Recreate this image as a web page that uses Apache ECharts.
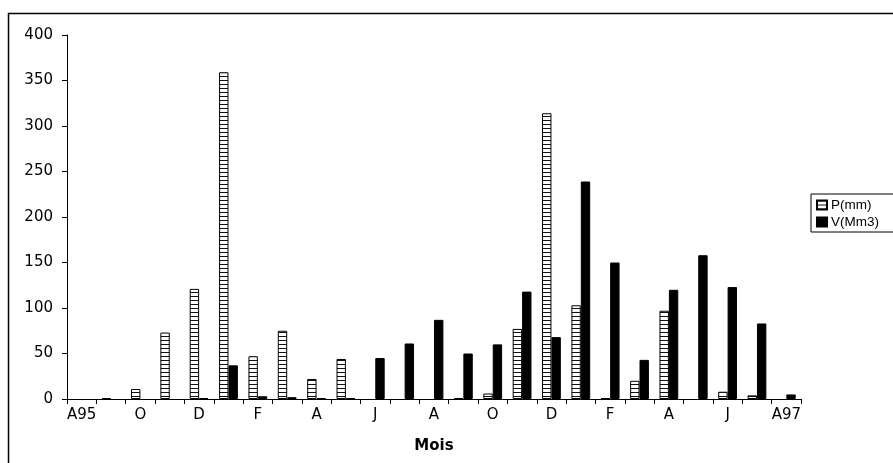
<!DOCTYPE html>
<html>
<head>
<meta charset="utf-8">
<script src="https://cdn.jsdelivr.net/npm/echarts@6/dist/echarts.min.js"></script>
<style>
html,body{margin:0;padding:0;background:#fff;}
#c{width:893px;height:463px;}
</style>
</head>
<body>
<div id="c"></div>
<script>
const categories = ['A95','S','O','N','D','J','F','M','A','M','J','J','A','S','O','N','D','J','F','M','A','M','J','J','A97'];
const pValues = [0, 1, 11, 73, 121, 359, 47, 75, 22, 44, 0, 0, 0, 1, 6, 77, 314, 103, 1, 20, 97, 0, 8, 4, 0];
const vValues = [0, 0, 0, 0, 1, 37, 3, 2, 1, 1, 45, 61, 87, 50, 60, 118, 68, 239, 150, 43, 120, 158, 123, 83, 5];
const seriesNames = ['P(mm)', 'V(Mm3)'];

const AXFONT = '"DejaVu Sans", sans-serif';
const LGFONT = '"Liberation Sans", Arial, sans-serif';

// hatched pattern: white with horizontal black lines
const pc = document.createElement('canvas');
pc.width = 8; pc.height = 4;
const ctx = pc.getContext('2d');
ctx.fillStyle = '#fff'; ctx.fillRect(0, 0, 8, 4);
ctx.fillStyle = '#111'; ctx.fillRect(0, 0, 8, 1);
const hatch = { image: pc, repeat: 'repeat' };

// zero months draw no bar at all
const asBars = arr => arr.map(v => (v === 0 ? null : v));

const chart = echarts.init(document.getElementById('c'), null, { renderer: 'canvas' });
chart.setOption({
  animation: false,
  backgroundColor: '#fff',
  graphic: [{
    type: 'rect',
    shape: { x: 8.5, y: 13.5, width: 1000, height: 1000 },
    style: { fill: 'none', stroke: '#000', lineWidth: 1.5 },
    silent: true, z: 0
  }],
  grid: { left: 67, top: 35, right: 92, bottom: 64, containLabel: false },
  legend: {
    orient: 'vertical',
    left: 811, top: 194,
    padding: [4, 30, 3, 5],
    itemGap: 3,
    itemWidth: 10, itemHeight: 9,
    borderColor: '#000', borderWidth: 1,
    backgroundColor: '#fff',
    textStyle: { fontFamily: LGFONT, fontSize: 13.5, color: '#000', padding: [0, 0, 0, -1] },
    data: [
      { name: seriesNames[0], icon: 'rect' },
      { name: seriesNames[1], icon: 'rect' }
    ]
  },
  xAxis: {
    type: 'category',
    data: categories,
    boundaryGap: true,
    name: 'Mois',
    nameLocation: 'middle',
    nameGap: 40,
    nameTextStyle: { fontFamily: AXFONT, fontSize: 15, fontWeight: 'bold', color: '#000' },
    axisLine: { lineStyle: { color: '#000', width: 1 } },
    axisTick: { show: true, interval: 0, length: 5, lineStyle: { color: '#000' } },
    axisLabel: { interval: 1, fontFamily: AXFONT, fontSize: 15, color: '#000', margin: 9 },
    splitLine: { show: false }
  },
  yAxis: {
    type: 'value',
    min: 0, max: 400, interval: 50,
    axisLine: { show: true, lineStyle: { color: '#000', width: 1 } },
    axisTick: { show: true, length: 5, lineStyle: { color: '#000' } },
    axisLabel: { fontFamily: AXFONT, fontSize: 15, color: '#000', margin: 14 },
    splitLine: { show: false }
  },
  series: [
    {
      name: seriesNames[0], type: 'bar', data: asBars(pValues),
      barWidth: '32%', barGap: '0%',
      itemStyle: { color: hatch, borderColor: '#000', borderWidth: 1 }
    },
    {
      name: seriesNames[1], type: 'bar', data: asBars(vValues),
      barWidth: '32%', barGap: '0%',
      itemStyle: { color: '#000', borderColor: '#000', borderWidth: 1 }
    }
  ]
});
</script>
</body>
</html>
